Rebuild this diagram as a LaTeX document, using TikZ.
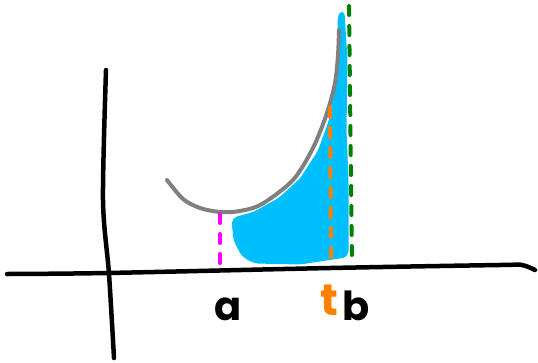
\documentclass[tikz,border=0pt]{standalone}
\usepackage{fontspec}
\setmainfont{Poppins}
\begin{document}
\begin{tikzpicture}[x=1pt,y=-1pt,
  axisline/.style={line width=4.5pt,line cap=round,black},
  curveline/.style={line width=4pt,line cap=round,color=curvegray},
  dashline/.style={line width=4pt,line cap=round,dash pattern=on 9pt off 11pt},
  lbl/.style={font=\fontsize{40}{40}\selectfont\bfseries,anchor=base,inner sep=0pt}]
\definecolor{curvegray}{RGB}{128,128,128}
\definecolor{fillblue}{RGB}{0,191,255}
\definecolor{dkgreen}{RGB}{0,128,0}
\definecolor{orng}{RGB}{255,128,0}
\definecolor{mgnt}{RGB}{255,0,255}
\useasboundingbox (0,0) rectangle (538,362);
% blue area
\fill[fillblue,draw=fillblue,line width=5pt,line join=round,rounded corners=4pt]
  (342,12) -- (345,60) -- (344,130) -- (346,180) -- (346,255) -- (300,262) -- (255,261) -- (244,255) -- (236,240) -- (234,220) -- (255,214) -- (280,200) -- (302,180) -- (320,152) -- (331,122) -- (337,90) -- (340,50) -- (340,20) -- cycle;
% axes
\draw[axisline] plot[smooth] coordinates {(7,274) (107,273) (330,268) (500,265) (522,265) (535,270)};
\draw[axisline] plot[smooth] coordinates {(106,70) (103,200) (109,274) (114,358)};
% curve
\draw[curveline] plot[smooth] coordinates {(167,180) (183,199) (200,208) (220,212) (240,211) (262,204) (293,180) (313,148) (327,113) (335,83) (338,55) (339,30)};
% dashed lines
\coordinate (ga) at (220,214); \coordinate (gb) at (220,268);
\coordinate (oa) at (330,108); \coordinate (ob) at (331,266);
\coordinate (ba) at (349,6); \coordinate (bb) at (352,264);
\draw[dashline,mgnt] (ga) -- (gb);
\draw[dashline,orng] (oa) -- (ob);
\draw[dashline,dkgreen] (ba) -- (bb);
% labels
\node[lbl] (la) at (228,320) {a};
\node[lbl,text=orng,font=\fontsize{44}{44}\selectfont\bfseries] (lt) at (329,315) {t};
\node[lbl] (lb) at (356,320) {b};
\end{tikzpicture}
\end{document}
